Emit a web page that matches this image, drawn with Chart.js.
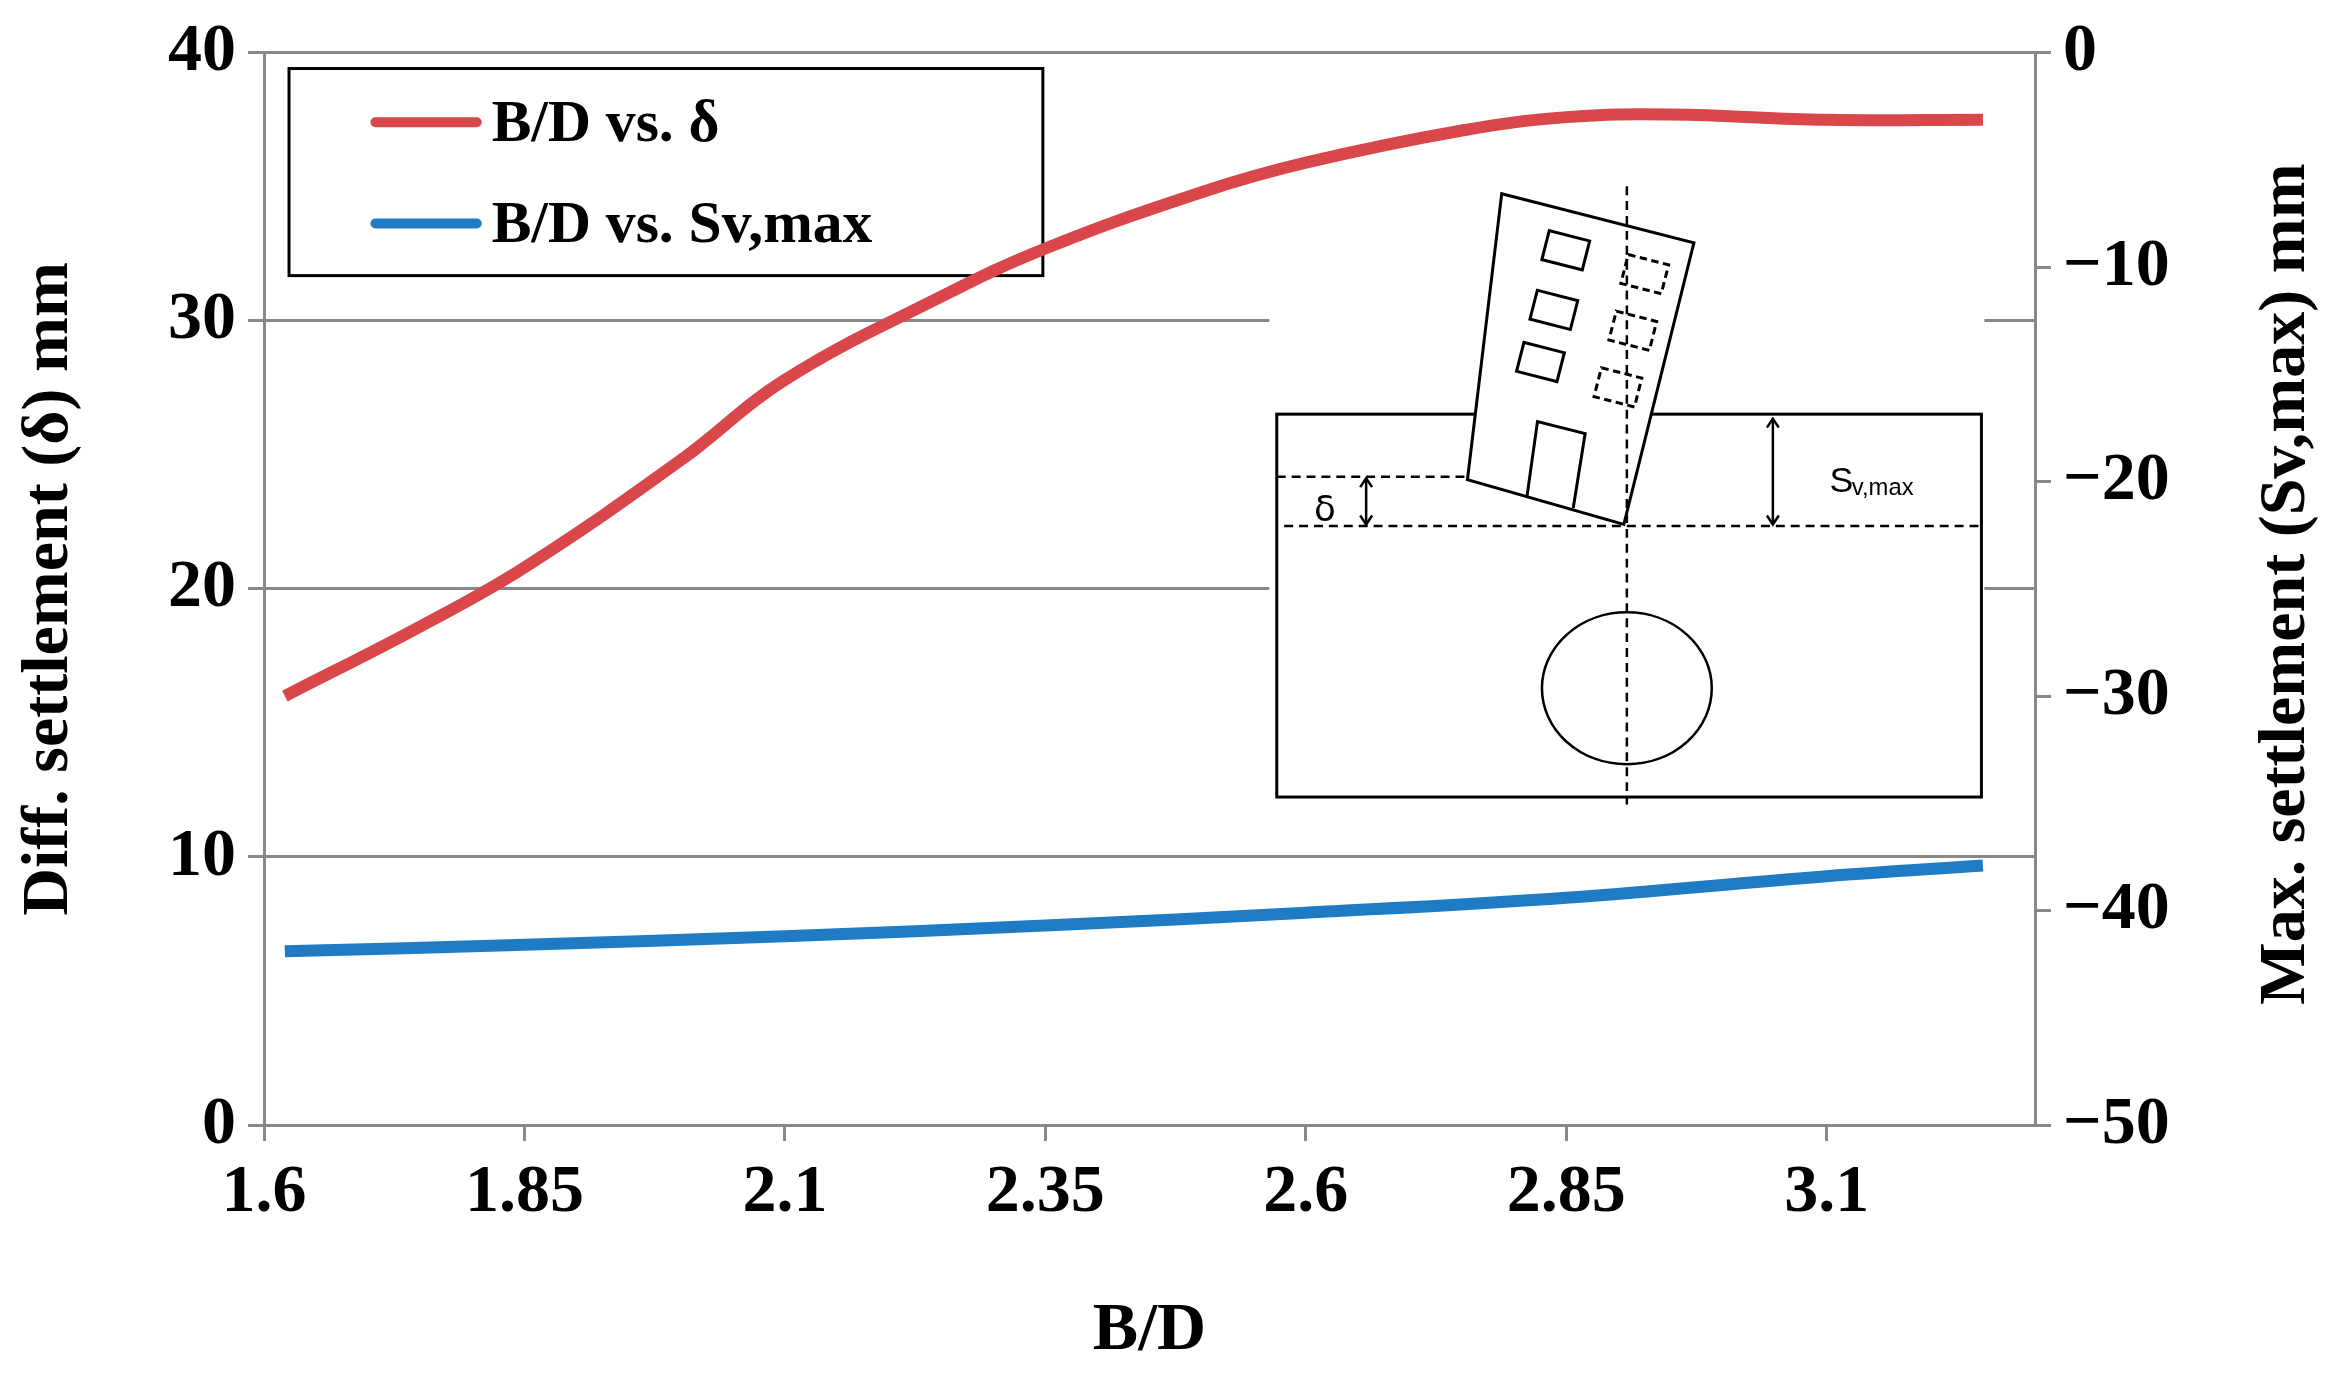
<!DOCTYPE html>
<html><head><meta charset="utf-8">
<script src="https://cdn.jsdelivr.net/npm/chart.js@4"></script>
<style>html,body{margin:0;padding:0;background:#fff}#w{width:2336px;height:1376px}</style>
</head><body><div id="w"><canvas id="c"></canvas></div>
<script>
const bdRed = [1.62, 1.75, 1.85, 2.0, 2.1, 2.25, 2.35, 2.5, 2.6, 2.75, 2.85, 2.95, 3.1, 3.25];
const delta = [16.0, 18.6, 20.8, 24.8, 27.8, 30.9, 32.7, 34.8, 35.9, 37.1, 37.6, 37.7, 37.5, 37.5];
const bdBlue = [1.62, 1.85, 2.1, 2.35, 2.6, 2.85, 3.1, 3.25];
const svmax = [-41.9, -41.6, -41.2, -40.7, -40.1, -39.4, -38.4, -37.9];
const xTicks = [1.6, 1.85, 2.1, 2.35, 2.6, 2.85, 3.1];
const legendLabels = ['B/D vs. δ', 'B/D vs. Sv,max'];
const rightTitle = 'Max. settlement (Sv,max) mm';

const S = 2336/1568;
const FONT = '"Liberation Serif","Times New Roman",serif';

const deco = {
  id: 'deco',
  beforeDatasetsDraw(chart) {
    const c = chart.ctx;
    const P = (v) => v*S;
    c.save();
    c.fillStyle = '#fff'; c.strokeStyle = '#000'; c.lineWidth = 3;
    c.fillRect(P(194), P(46), P(506), P(139)); c.strokeRect(P(194), P(46), P(506), P(139));
    const cols = ['#d9474a', '#1f7bc4'];
    [82, 150].forEach((y, i) => {
      c.strokeStyle = cols[i]; c.lineWidth = 10; c.lineCap = 'round';
      c.beginPath(); c.moveTo(P(252), P(y)); c.lineTo(P(320), P(y)); c.stroke();
      c.fillStyle = '#000'; c.font = 'bold ' + P(40) + 'px ' + FONT; c.textBaseline = 'middle';
      c.fillText(legendLabels[i], P(330), P(y + 2));
    });
    c.lineCap = 'butt';
    c.fillStyle = '#fff'; c.strokeStyle = '#000'; c.lineWidth = 3;
    c.fillRect(P(852), P(210), P(480), P(330));
    c.fillRect(P(857), P(278), P(473), P(257));
    c.strokeRect(P(857), P(278), P(473), P(257));
    c.beginPath();
    c.moveTo(P(1008), P(130)); c.lineTo(P(1137), P(163)); c.lineTo(P(1090), P(352)); c.lineTo(P(985), P(322)); c.closePath();
    c.fill(); c.stroke();
    const ang = Math.atan2(33, 129);
    const win = (cx, cy, dashed) => {
      c.save(); c.translate(P(cx), P(cy)); c.rotate(ang);
      c.setLineDash(dashed ? [P(5), P(3)] : []);
      c.strokeRect(-P(14), -P(10), P(28), P(20)); c.restore();
    };
    win(1051, 168); win(1104, 184, true);
    win(1043, 208); win(1096, 222, true);
    win(1034, 243); win(1086, 260, true);
    c.beginPath();
    c.moveTo(P(1025), P(333)); c.lineTo(P(1032), P(283)); c.lineTo(P(1064), P(291)); c.lineTo(P(1056), P(341)); c.stroke();
    c.lineWidth = 2.5;
    c.beginPath(); c.ellipse(P(1092), P(462), P(57), P(51), 0, 0, Math.PI*2); c.stroke();
    c.setLineDash([P(6), P(4)]);
    c.beginPath(); c.moveTo(P(1092), P(125)); c.lineTo(P(1092), P(540)); c.stroke();
    c.beginPath(); c.moveTo(P(857), P(320)); c.lineTo(P(985), P(320)); c.stroke();
    c.beginPath(); c.moveTo(P(862), P(353)); c.lineTo(P(1330), P(353)); c.stroke();
    c.setLineDash([]);
    const arrow = (x, y1, y2) => {
      c.beginPath(); c.moveTo(P(x), P(y1)); c.lineTo(P(x), P(y2)); c.stroke();
      [[y1, 1], [y2, -1]].forEach(([y, d]) => {
        c.beginPath(); c.moveTo(P(x - 4), P(y + 6*d)); c.lineTo(P(x), P(y)); c.lineTo(P(x + 4), P(y + 6*d)); c.stroke();
      });
    };
    arrow(917, 321, 352); arrow(1190, 281, 352);
    c.fillStyle = '#000'; c.textBaseline = 'alphabetic';
    c.font = P(24) + 'px "DejaVu Sans",sans-serif';
    c.fillText('δ', P(882), P(350));
    c.font = P(24) + 'px "Liberation Sans",sans-serif';
    c.fillText('S', P(1228), P(330));
    c.font = P(16) + 'px "Liberation Sans",sans-serif';
    c.fillText('v,max', P(1243), P(332));
    c.restore();
  },
  afterDraw(chart) {
    const c = chart.ctx;
    c.save();
    c.translate(1535*S, 392*S); c.rotate(-Math.PI/2);
    c.fillStyle = '#000'; c.font = 'bold 66px ' + FONT; c.textAlign = 'center'; c.textBaseline = 'middle';
    c.fillText(rightTitle, 0, 0);
    c.restore();
  }
};

const tickFont = { family: FONT, size: 68, weight: 'bold' };
new Chart(document.getElementById('c'), {
  type: 'line',
  data: { datasets: [
    { data: bdRed.map((x, i) => ({x, y: delta[i]})), borderColor: '#d9474a', borderWidth: 12, pointRadius: 0, tension: 0.4, yAxisID: 'y' },
    { data: bdBlue.map((x, i) => ({x, y: svmax[i]})), borderColor: '#1f7bc4', borderWidth: 12, pointRadius: 0, tension: 0.4, yAxisID: 'y2' }
  ]},
  plugins: [deco],
  options: {
    responsive: true, maintainAspectRatio: false, animation: false,
    layout: { padding: { top: 45, right: 0, left: 0, bottom: 0 } },
    plugins: { legend: { display: false }, tooltip: { enabled: false } },
    scales: {
      x: { type: 'linear', min: 1.6, max: 3.3,
        afterBuildTicks: (a) => { a.ticks = xTicks.map(v => ({value: v})); },
        afterFit: (s) => { s.height = 251; },
        ticks: { color: '#000', font: tickFont, maxRotation: 0, callback: v => String(v), padding: 12 },
        grid: { drawOnChartArea: false, color: '#888', lineWidth: 3, tickLength: 16 },
        border: { color: '#888', width: 3 },
        title: { display: true, text: 'B/D', color: '#000', font: { family: FONT, size: 68, weight: 'bold' }, padding: { top: 20 } } },
      y: { min: 0, max: 40, afterFit: (s) => { s.width = 264; },
        ticks: { stepSize: 10, color: '#000', font: tickFont, padding: 12 },
        grid: { color: '#888', lineWidth: 3, tickLength: 16 }, border: { color: '#888', width: 3 },
        title: { display: true, text: 'Diff. settlement (δ) mm', color: '#000', font: { family: FONT, size: 66, weight: 'bold' }, padding: { top: 10, bottom: 0 } } },
      y2: { position: 'right', min: -50, max: 0, afterFit: (s) => { s.width = 301; },
        ticks: { stepSize: 10, color: '#000', font: tickFont, padding: 12, callback: v => String(v).replace('-', '−') },
        grid: { drawOnChartArea: false, color: '#888', lineWidth: 3, tickLength: 16 }, border: { color: '#888', width: 3 } }
    }
  }
});
</script></body></html>
